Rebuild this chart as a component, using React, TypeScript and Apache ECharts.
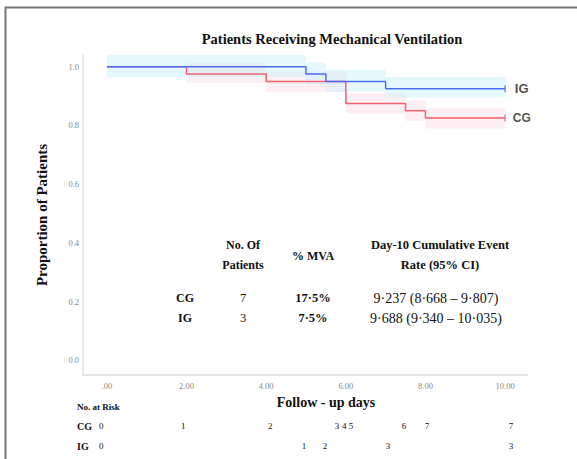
import React, { useEffect, useRef } from "react";
import * as echarts from "echarts";

// Kaplan-Meier style step data
const igTimes = [0, 5, 5.5, 7, 10];
const igSurv = [1.0, 0.975, 0.95, 0.925, 0.925];
const igLower = [0.965, 0.94, 0.915, 0.895];
const igUpper = [1.04, 1.015, 0.99, 0.965];

const cgTimes = [0, 2, 4, 6, 7.5, 8, 10];
const cgSurv = [1.0, 0.975, 0.95, 0.875, 0.85, 0.825, 0.825];
const cgLower = [null, 0.945, 0.915, 0.84, 0.815, 0.79];
const cgUpper = [null, 1.013, 0.985, 0.91, 0.885, 0.86];

const xTicks = [0, 2, 4, 6, 8, 10];
const xTickLabels = [".00", "2.00", "4.00", "6.00", "8.00", "10.00"];
const yTicks = [0, 0.2, 0.4, 0.6, 0.8, 1.0];
const yTickLabels = ["0.0", "0.2", "0.4", "0.6", "0.8", "1.0"];

// Number at risk row (label positions on the day axis)
const cgRiskX = [-0.14, 1.92, 4.1, 5.78, 5.96, 6.13, 7.46, 8.04, 10.15];
const cgRiskN = ["0", "1", "2", "3", "4", "5", "6", "7", "7"];
const igRiskX = [-0.14, 4.95, 5.48, 7.06, 10.15];
const igRiskN = ["0", "1", "2", "3", "3"];

// Summary table
const tableGroups = ["CG", "IG"];
const tablePatients = ["7", "3"];
const tableMVA = ["17·5%", "7·5%"];
const tableRate = ["9·237 (8·668 – 9·807)", "9·688 (9·340 – 10·035)"];

const SERIF = "'Liberation Serif', 'Times New Roman', serif";
const SANS = "'Liberation Sans', Arial, sans-serif";
const BLUE = "#4d6cf5";
const RED = "#f4606f";

function bandRows(times: number[], lo: (number | null)[], hi: (number | null)[]) {
  const rows: number[][] = [];
  for (let i = 0; i < lo.length; i++) {
    if (lo[i] == null || hi[i] == null) continue;
    rows.push([times[i], times[i + 1], lo[i] as number, hi[i] as number]);
  }
  return rows;
}

function bandSeries(name: string, rows: number[][], fill: string) {
  return {
    type: "custom",
    name,
    silent: true,
    data: rows,
    encode: { x: [0, 1], y: [2, 3] },
    renderItem: (params: any, api: any) => {
      const p0 = api.coord([api.value(0), api.value(3)]);
      const p1 = api.coord([api.value(1), api.value(2)]);
      return {
        type: "rect",
        shape: { x: p0[0], y: p0[1], width: p1[0] - p0[0], height: p1[1] - p0[1] },
        style: { fill },
      };
    },
    z: 1,
  };
}

export default function App() {
  const ref = useRef<HTMLDivElement>(null);
  useEffect(() => {
    document.body.style.margin = "0";
    const chart = echarts.init(ref.current!, null, { renderer: "svg" });
    const option: any = {
      animation: false,
      backgroundColor: "#ffffff",
      grid: { left: 83, right: 50, top: 55, bottom: 84 },
      xAxis: {
        type: "value",
        min: -0.6,
        max: 10.55,
        splitLine: { show: false },
        axisTick: { show: false },
        axisLine: { show: true, onZero: false, lineStyle: { color: "#dddddd", width: 1.5 } },
        axisLabel: {
          customValues: xTicks,
          formatter: (v: number) => xTickLabels[xTicks.indexOf(v)] ?? "",
          color: "#888888",
          fontFamily: SERIF,
          fontSize: 8.5,
          margin: 6,
        },
      },
      yAxis: {
        type: "value",
        min: -0.05,
        max: 1.04,
        splitLine: { show: false },
        axisTick: { show: false },
        axisLine: { show: true, onZero: false, lineStyle: { color: "#e2e2e2", width: 1.5 } },
        axisLabel: {
          customValues: yTicks,
          formatter: (v: number) => {
            const i = yTicks.findIndex((t) => Math.abs(t - v) < 1e-6);
            return i >= 0 ? yTickLabels[i] : "";
          },
          color: "#888888",
          fontFamily: SERIF,
          fontSize: 8.5,
          margin: 4,
        },
        name: "Proportion of Patients",
        nameLocation: "middle",
        nameRotate: 90,
        nameGap: 34,
        nameTextStyle: { fontFamily: SERIF, fontWeight: "bold", fontSize: 15, color: "#111111" },
      },
      series: [
        bandSeries("CG CI", bandRows(cgTimes, cgLower, cgUpper), "rgba(250,190,210,0.25)"),
        bandSeries("IG CI", bandRows(igTimes, igLower, igUpper), "rgba(190,238,250,0.4)"),
        {
          type: "line",
          name: "CG",
          step: "end",
          showSymbol: false,
          data: cgTimes.map((t, i) => [t, cgSurv[i]]),
          lineStyle: { color: RED, width: 1.5 },
          z: 3,
        },
        {
          type: "line",
          name: "IG",
          step: "end",
          showSymbol: false,
          data: igTimes.map((t, i) => [t, igSurv[i]]),
          lineStyle: { color: BLUE, width: 1.5 },
          z: 4,
        },
        {
          type: "scatter",
          name: "IG end",
          symbol: "rect",
          symbolSize: [1.5, 7],
          itemStyle: { color: BLUE },
          data: [[igTimes[igTimes.length - 1], igSurv[igSurv.length - 1]]],
          label: {
            show: true,
            position: "right",
            distance: 9,
            formatter: "IG",
            fontFamily: SANS,
            fontWeight: "bold",
            fontSize: 13,
            color: "#222222",
          },
          z: 5,
        },
        {
          type: "scatter",
          name: "CG end",
          symbol: "rect",
          symbolSize: [1.5, 7],
          itemStyle: { color: RED },
          data: [[cgTimes[cgTimes.length - 1], cgSurv[cgSurv.length - 1]]],
          label: {
            show: true,
            position: "right",
            distance: 7,
            formatter: "CG",
            fontFamily: SANS,
            fontWeight: "bold",
            fontSize: 12,
            color: "#222222",
          },
          z: 5,
        },
      ],
    };
    chart.setOption(option);

    const px = (x: number) => chart.convertToPixel({ xAxisIndex: 0 }, x) as number;
    const serifText = (x: number, y: number, text: string, size: number, bold: boolean, align = "center", color = "#111111") => ({
      type: "text",
      x,
      y,
      silent: true,
      style: {
        text,
        fontFamily: SERIF,
        fontSize: size,
        fontWeight: bold ? "bold" : "normal",
        fill: color,
        align,
        verticalAlign: "middle",
      },
    });

    const graphics: any[] = [
      // frame
      {
        type: "polyline",
        shape: { points: [[5.5, 459], [5.5, 7.5], [577, 7.5]] },
        style: { stroke: "#777777", lineWidth: 2, fill: "none" },
        silent: true,
      },
      serifText(332, 38.5, "Patients Receiving Mechanical Ventilation", 14.5, true),
      serifText(326, 402, "Follow - up days", 14, true),
      serifText(77, 407, "No. at Risk", 9, true, "left"),
      serifText(77, 426, "CG", 10, true, "left"),
      serifText(77, 446, "IG", 10, true, "left"),
      // table headers
      serifText(243, 245, "No. Of", 12, true),
      serifText(243, 265, "Patients", 12, true),
      serifText(313, 256, "% MVA", 12, true),
      serifText(440, 245, "Day-10 Cumulative Event", 12.5, true),
      serifText(440, 265, "Rate (95% CI)", 12.5, true),
    ];
    const rowY = [298, 318];
    tableGroups.forEach((g, i) => {
      graphics.push(serifText(185, rowY[i], g, 12, true));
      graphics.push(serifText(243, rowY[i], tablePatients[i], 12.5, false));
      graphics.push(serifText(313, rowY[i], tableMVA[i], 12.5, true));
      graphics.push(serifText(436, rowY[i], tableRate[i], 14, false));
    });
    cgRiskX.forEach((x, i) => graphics.push(serifText(px(x), 426, cgRiskN[i], 9, false)));
    igRiskX.forEach((x, i) => graphics.push(serifText(px(x), 446, igRiskN[i], 9, false)));

    chart.setOption({ graphic: graphics });

    return () => chart.dispose();
  }, []);
  return <div ref={ref} style={{ width: 577, height: 459 }} />;
}
